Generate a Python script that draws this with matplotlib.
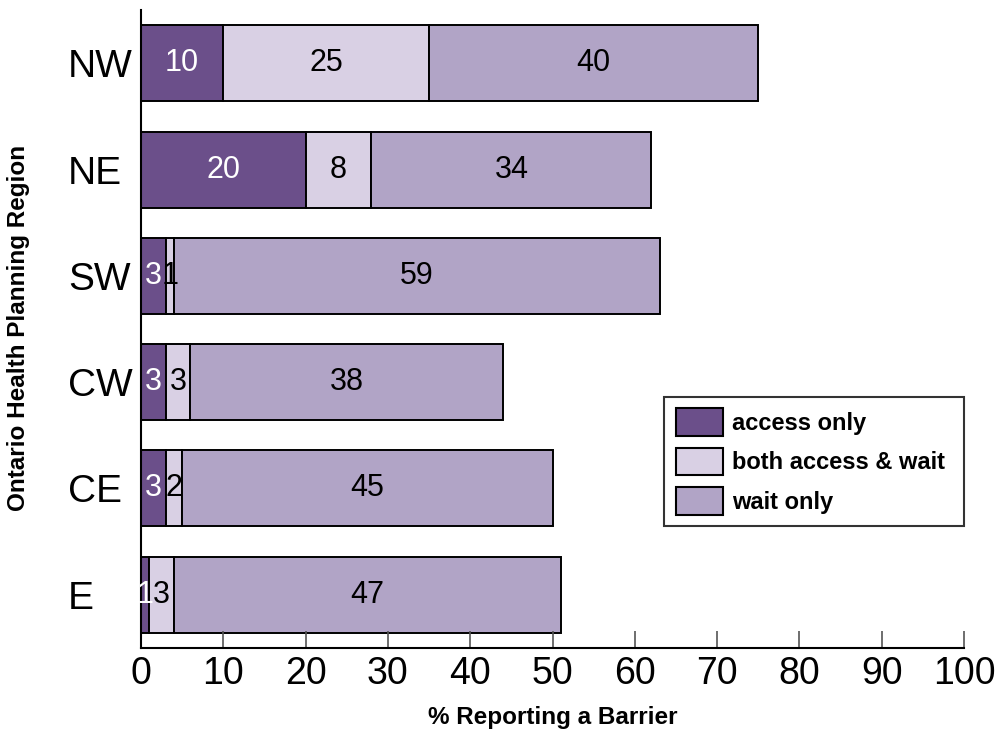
import matplotlib
matplotlib.use("Agg")
import matplotlib.pyplot as plt
from matplotlib.patches import Patch

plt.rcParams['font.family'] = ['Liberation Sans', 'DejaVu Sans']

regions = ["NW", "NE", "SW", "CW", "CE", "E"]
access_only = [10, 20, 3, 3, 3, 1]
both_access_wait = [25, 8, 1, 3, 2, 3]
wait_only = [40, 34, 59, 38, 45, 47]
series_names = ["access only", "both access & wait", "wait only"]
colors = ["#6b4f8a", "#d9d0e4", "#b1a4c6"]
text_colors = ["white", "black", "black"]
xticks = list(range(0, 101, 10))

fig = plt.figure(figsize=(9.96, 7.32), dpi=100)
ax = fig.add_axes([0.1416, 0.1148, 0.8263, 0.8715])

ypos = list(range(len(regions) - 1, -1, -1))
left = [0] * len(regions)
for vals, col, tcol, name in zip([access_only, both_access_wait, wait_only],
                                 colors, text_colors, series_names):
    ax.barh(ypos, vals, left=left, height=0.715, color=col,
            edgecolor="black", linewidth=1.4, label=name)
    for y, l, v in zip(ypos, left, vals):
        ax.text(l + v / 2, y, str(v), ha="center", va="center",
                fontsize=22, color=tcol)
    left = [a + b for a, b in zip(left, vals)]

ax.set_xlim(0, 100)
ax.set_ylim(-0.5, 5.5)
ax.set_yticks(ypos)
ax.set_yticklabels(regions, fontsize=28)
ax.tick_params(axis="y", length=0, pad=52.5)
for lbl in ax.get_yticklabels():
    lbl.set_horizontalalignment("left")
ax.set_xticks(xticks)
ax.set_xticklabels([str(t) for t in xticks], fontsize=27)
ax.tick_params(axis="x", direction="in", length=12, width=1.2,
               color="#555555", pad=6)

for s in ["top", "right"]:
    ax.spines[s].set_visible(False)
ax.spines["left"].set_linewidth(1.5)
ax.spines["bottom"].set_linewidth(1.5)

ax.set_xlabel("% Reporting a Barrier", fontsize=17.5, fontweight="bold",
              labelpad=10)
fig.text(0.019, 0.552, "Ontario Health Planning Region", rotation=90,
         fontsize=17.5, fontweight="bold", ha="center", va="center")

handles = [Patch(facecolor=c, edgecolor="black", linewidth=1.5) for c in colors]
leg = ax.legend(handles, series_names, loc="lower left",
                bbox_to_anchor=(0.636, 0.191, 0.364, 0.202), mode="expand",
                frameon=True, fancybox=False, edgecolor="black",
                prop={"weight": "bold", "size": 17}, handlelength=2.0,
                handleheight=1.43, handletextpad=0.38, labelspacing=0.5,
                borderpad=0.47, borderaxespad=0)
leg.get_frame().set_linewidth(1.5)

fig.savefig("out.png", dpi=100)
